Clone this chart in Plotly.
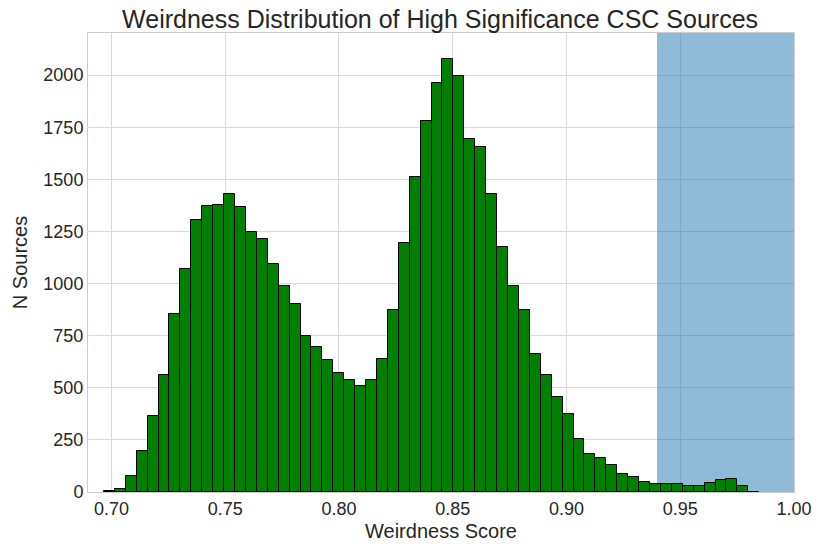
import plotly.graph_objects as go

# Histogram data
bin_start = 0.6967
bin_width = 0.0048
counts = [5, 16, 79, 195, 363, 560, 855, 1070, 1304, 1370,
          1378, 1428, 1365, 1245, 1213, 1092, 986, 904, 747, 696,
          635, 571, 535, 509, 535, 640, 874, 1194, 1509, 1778,
          1960, 2076, 1996, 1692, 1656, 1432, 1173, 986, 875, 661,
          560, 458, 376, 256, 184, 163, 130, 88, 72, 47,
          37, 37, 37, 31, 31, 43, 58, 62, 31, 2]
centers = [bin_start + bin_width * (i + 0.5) for i in range(len(counts))]

span_start = 0.94
span_end = 1.00
x_ticks = [0.70, 0.75, 0.80, 0.85, 0.90, 0.95, 1.00]
x_tick_labels = ["0.70", "0.75", "0.80", "0.85", "0.90", "0.95", "1.00"]
y_ticks = [0, 250, 500, 750, 1000, 1250, 1500, 1750, 2000]
y_max = 2202

fig = go.Figure()
# shaded span, drawn as the first bar trace so it sits above the grid but below the histogram
fig.add_trace(go.Bar(
    x=[(span_start + span_end) / 2], y=[y_max], width=[span_end - span_start],
    marker=dict(color="rgba(31,119,180,0.5)", line=dict(width=0)),
    hoverinfo="skip",
))
fig.add_trace(go.Bar(
    x=centers, y=counts, width=bin_width,
    marker=dict(color="#008000", line=dict(color="black", width=1)),
    hoverinfo="x+y",
))

font_family = "Liberation Sans, Arial, sans-serif"
fig.update_layout(
    width=828, height=544,
    margin=dict(l=88, r=34, t=33, b=52),
    paper_bgcolor="white", plot_bgcolor="white",
    font=dict(family=font_family, color="#262626"),
    showlegend=False,
    barmode="overlay",
    bargap=0,
    title=dict(text="Weirdness Distribution of High Significance CSC Sources",
               x=0.5315, xanchor="center", y=1 - 19 / 544, yanchor="middle",
               yref="container", font=dict(size=25, color="#262626")),
    xaxis=dict(range=[0.6897, 1.0], tickvals=x_ticks, ticktext=x_tick_labels,
               showgrid=True, gridcolor="#d9d9d9", gridwidth=1,
               showline=True, linecolor="#cccccc", linewidth=1, mirror=True,
               ticks="", tickfont=dict(size=18), zeroline=False,
               automargin=False,
               title=dict(text="Weirdness Score", font=dict(size=20), standoff=6)),
    yaxis=dict(range=[0, y_max], tickvals=y_ticks,
               showgrid=True, gridcolor="#d9d9d9", gridwidth=1,
               showline=True, linecolor="#cccccc", linewidth=1, mirror=True,
               ticks="", tickfont=dict(size=18), zeroline=False,
               automargin=False,
               title=dict(text="N Sources", font=dict(size=20), standoff=10)),
)

fig.write_html("out.html")
